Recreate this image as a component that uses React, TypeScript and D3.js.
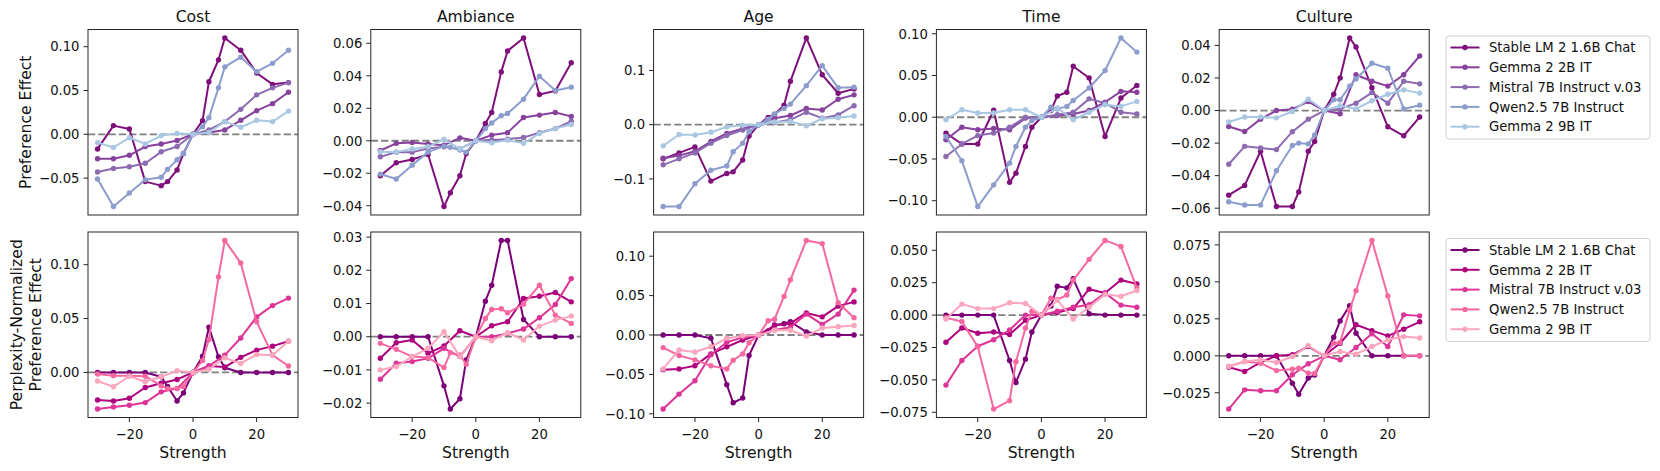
import React from 'react';
import * as d3 from 'd3';

// steering strengths (x axis)
const strengths = [-30, -25, -20, -15, -10, -8, -5, -3, 0, 3, 5, 8, 10, 15, 20, 25, 30];
const categories = ['Cost', 'Ambiance', 'Age', 'Time', 'Culture'];
const models = ['Stable LM 2 1.6B Chat', 'Gemma 2 2B IT', 'Mistral 7B Instruct v.03', 'Qwen2.5 7B Instruct', 'Gemma 2 9B IT'];
const prefColors = ['#7f0f7b', '#88419d', '#8c6bb1', '#8c9ccd', '#a9c7e3'];
const normColors = ['#7a0177', '#ae017e', '#dd3497', '#f768a1', '#fba6bd'];

type Row = (number | null)[];

// Preference Effect, one row per model (null = not evaluated at that strength)
const costPref: Row[] = [
  [-0.0167, 0.0099, 0.0061, -0.054, -0.0586, -0.054, -0.0407, -0.022, 0, 0.0156, 0.06, 0.085, 0.11, 0.096, 0.07, 0.057, 0.059],
  [-0.028, -0.028, -0.024, -0.014, -0.011, null, -0.007, null, 0, null, 0.002, null, 0.005, 0.016, 0.027, 0.035, 0.048],
  [-0.043, -0.039, -0.037, -0.033, -0.02, null, -0.014, null, 0, null, 0.005, null, 0.0145, 0.0285, 0.045, 0.053, 0.059],
  [-0.051, -0.0825, -0.067, -0.052, -0.049, -0.04, -0.029, -0.022, 0, 0.0087, 0.019, 0.053, 0.077, 0.088, 0.0715, 0.081, 0.096],
  [-0.0095, -0.015, -0.004, -0.011, -0.0015, null, 0.001, null, 0, null, 0.002, null, 0.0145, 0.008, 0.016, 0.0145, 0.0265],
];
const ambiancePref: Row[] = [
  [-0.0215, -0.0135, -0.0115, -0.0084, -0.0405, -0.032, -0.0215, -0.0078, 0, 0.0106, 0.0174, 0.0424, 0.0553, 0.0633, 0.0285, 0.0307, 0.048],
  [-0.006, -0.0016, -0.001, -0.002, -0.0027, null, 0.0018, null, 0, null, 0.0035, null, 0.005, 0.0143, 0.0158, 0.0174, 0.015],
  [-0.0098, -0.007, -0.007, -0.0047, -0.0037, null, -0.005, null, 0, null, 0.0005, null, 0.001, 0.002, 0.005, 0.0075, 0.012],
  [-0.0205, -0.0235, -0.015, -0.007, -0.0033, -0.004, -0.0057, -0.007, 0, 0.0075, 0.011, 0.0154, 0.0168, 0.0256, 0.0397, 0.031, 0.033],
  [-0.0068, -0.007, -0.005, -0.0037, 0.001, null, -0.005, null, 0, null, -0.0012, null, 0.0004, -0.0016, 0.0045, 0.0075, 0.01],
];
const agePref: Row[] = [
  [-0.063, -0.052, -0.041, -0.104, -0.09, -0.087, -0.065, -0.021, 0, 0.0135, 0.019, 0.036, 0.08, 0.16, 0.092, 0.058, 0.066],
  [-0.062, -0.057, -0.049, -0.031, -0.016, null, -0.007, null, 0, null, 0.012, null, 0.017, 0.03, 0.027, 0.047, 0.055],
  [-0.074, -0.063, -0.052, -0.034, -0.02, null, -0.01, null, 0, null, 0.004, null, 0.009, 0.023, 0.012, 0.018, 0.035],
  [-0.151, -0.151, -0.109, -0.084, -0.076, -0.05, -0.034, -0.013, 0, 0.01, 0.02, 0.03, 0.038, 0.072, 0.109, 0.068, 0.069],
  [-0.039, -0.018, -0.019, -0.014, -0.004, null, -0.001, null, 0, null, 0.005, null, 0.006, -0.002, 0.011, 0.013, 0.016],
];
const timePref: Row[] = [
  [-0.019, -0.032, -0.032, 0.0084, -0.078, -0.067, -0.035, -0.012, 0, 0.008, 0.0255, 0.03, 0.061, 0.047, -0.023, 0.023, 0.038],
  [-0.027, -0.012, -0.015, -0.0135, -0.015, null, -0.001, null, 0, null, 0.002, null, 0.004, 0.008, 0.018, 0.031, 0.03],
  [-0.047, -0.032, -0.022, -0.019, -0.012, null, 0, null, 0, null, 0.003, null, 0.006, 0.022, 0.017, 0.006, 0.004],
  [-0.023, -0.052, -0.107, -0.081, -0.055, -0.035, -0.012, -0.004, 0, 0.012, 0.01, 0.013, 0.02, 0.035, 0.056, 0.095, 0.078],
  [-0.003, 0.009, 0.005, 0.005, 0.009, null, 0.009, null, 0, null, 0.011, null, -0.003, 0.006, 0.015, 0.013, 0.019],
];
const culturePref: Row[] = [
  [-0.052, -0.046, -0.025, -0.059, -0.059, -0.05, -0.025, -0.019, 0, 0.01, 0.02, 0.0446, 0.039, 0.014, -0.01, -0.0155, -0.004],
  [-0.0098, -0.0129, -0.0053, 0, 0.0008, null, 0.0055, null, 0, null, -0.002, null, 0.022, 0.018, 0.015, 0.022, 0.0335],
  [-0.033, -0.022, -0.023, -0.024, -0.013, null, -0.0053, null, 0, null, 0.001, null, 0.0045, 0.011, 0.0045, 0.018, 0.0164],
  [-0.056, -0.058, -0.058, -0.037, -0.0215, -0.02, -0.0205, -0.015, 0, 0.0066, 0.0066, 0.015, 0.0194, 0.029, 0.026, 0.001, 0.0033],
  [-0.007, -0.004, -0.004, -0.0045, -0.0006, null, 0.007, null, 0, null, 0.003, null, 0.001, 0.006, 0.01, 0.0127, 0.0107],
];

// Perplexity-Normalized Preference Effect
const costNorm: Row[] = [
  [0, 0, 0, 0, -0.004, -0.013, -0.0265, -0.019, 0, 0.015, 0.042, 0.0145, 0.0043, 0, 0, 0, 0],
  [-0.0256, -0.0265, -0.024, -0.014, -0.01, null, -0.0065, null, 0, null, 0.006, null, 0.005, 0.014, 0.0207, 0.0244, 0.029],
  [-0.034, -0.032, -0.0305, -0.028, -0.018, null, -0.015, null, 0, null, 0.006, null, 0.016, 0.032, 0.0515, 0.062, 0.069],
  [-0.0015, -0.003, -0.003, -0.0035, -0.0125, -0.015, -0.015, -0.013, 0, 0.011, 0.0305, 0.0886, 0.1225, 0.1015, 0.047, 0.016, 0.006],
  [-0.008, -0.0133, -0.0035, -0.0087, -0.004, null, 0.0015, null, 0, null, 0.003, null, 0.0136, 0.0083, 0.0167, 0.016, 0.029],
];
const ambianceNorm: Row[] = [
  [0, 0, 0, 0, -0.0148, -0.0218, -0.0187, -0.007, 0, 0.0107, 0.0155, 0.029, 0.029, 0.0052, 0, 0, 0],
  [-0.0065, -0.0018, -0.001, -0.005, -0.0028, null, 0.0018, null, 0, null, 0.0033, null, 0.0045, 0.0115, 0.0122, 0.0133, 0.0105],
  [-0.0128, -0.008, -0.0075, -0.0065, -0.0035, null, -0.006, null, 0, null, 0, null, 0.001, 0.0023, 0.0057, 0.0097, 0.0175],
  [-0.002, -0.0038, -0.006, -0.0063, -0.0093, -0.0048, -0.0055, -0.0083, 0, 0.0055, 0.0082, 0.0084, 0.0072, 0.0098, 0.0155, 0.0065, 0.004],
  [-0.01, -0.009, -0.006, -0.0035, 0.0015, null, -0.006, null, 0, null, -0.0012, null, 0.0012, -0.001, 0.0032, 0.005, 0.0062],
];
const ageNorm: Row[] = [
  [0, 0, 0, -0.004, -0.063, -0.086, -0.08, -0.026, 0, 0.005, 0.0126, 0.0143, 0.0168, 0.004, 0, 0, 0],
  [-0.044, -0.043, -0.039, -0.024, -0.015, null, -0.0063, null, 0, null, 0.012, null, 0.0147, 0.028, 0.023, 0.0366, 0.042],
  [-0.094, -0.075, -0.058, -0.025, -0.0093, null, -0.003, null, 0, null, 0.0063, null, 0.0097, 0.0265, 0.0135, 0.0265, 0.057],
  [-0.016, -0.026, -0.0316, -0.039, -0.043, -0.032, -0.024, -0.0097, 0, 0.018, 0.02, 0.049, 0.07, 0.12, 0.116, 0.041, 0.022],
  [-0.043, -0.019, -0.0215, -0.015, -0.004, null, -0.001, null, 0, null, 0.006, null, 0.006, -0.0013, 0.009, 0.0105, 0.012],
];
const timeNorm: Row[] = [
  [0, 0, 0, 0, -0.035, -0.052, -0.034, -0.013, 0, 0.007, 0.0223, 0.021, 0.028, 0.001, 0, 0, 0],
  [-0.021, -0.01, -0.014, -0.013, -0.015, null, -0.004, null, 0, null, 0.002, null, 0.005, 0.02, 0.017, 0.027, 0.024],
  [-0.054, -0.035, -0.024, -0.019, -0.0115, null, 0, null, 0, null, 0.003, null, 0.006, 0.008, 0.017, 0.0077, 0.006],
  [-0.002, -0.005, -0.0245, -0.0725, -0.066, -0.036, -0.01, 0.003, 0, 0.013, 0.012, 0.0155, 0.027, 0.043, 0.0576, 0.053, 0.021],
  [-0.003, 0.0085, 0.005, 0.005, 0.0095, null, 0.009, null, 0, null, 0.0115, null, -0.003, 0.006, 0.016, 0.0145, 0.019],
];
const cultureNorm: Row[] = [
  [0, 0, 0, 0, -0.0185, -0.026, -0.015, -0.013, 0, 0.0126, 0.0236, 0.0338, 0.0153, 0, 0, 0, 0],
  [-0.0077, -0.0106, -0.0045, 0, 0.0007, null, 0.0063, null, 0, null, 0.0085, null, 0.021, 0.017, 0.0135, 0.018, 0.023],
  [-0.036, -0.023, -0.0236, -0.0236, -0.0128, null, -0.0054, null, 0, null, -0.0027, null, 0.0056, 0.0149, 0.0063, 0.0277, 0.027],
  [-0.0072, -0.0038, -0.005, -0.01, -0.009, -0.0083, -0.0117, -0.012, 0, 0.0086, 0.009, 0.031, 0.044, 0.078, 0.0405, 0, 0],
  [-0.0072, -0.0038, -0.0027, -0.0045, -0.0005, null, 0.0068, null, 0, null, 0.003, null, 0.0011, 0.0063, 0.0108, 0.013, 0.012],
];

// tick labels
const strengthTicks = [-20, 0, 20];
const prefTicks = [
  [-0.05, 0, 0.05, 0.1],
  [-0.04, -0.02, 0, 0.02, 0.04, 0.06],
  [-0.1, 0, 0.1],
  [-0.1, -0.05, 0, 0.05, 0.1],
  [-0.06, -0.04, -0.02, 0, 0.02, 0.04],
];
const prefFormats = ['.2f', '.2f', '.1f', '.2f', '.2f'];
const normTicks = [
  [0, 0.05, 0.1],
  [-0.02, -0.01, 0, 0.01, 0.02, 0.03],
  [-0.1, -0.05, 0, 0.05, 0.1],
  [-0.075, -0.05, -0.025, 0, 0.025, 0.05],
  [-0.025, 0, 0.025, 0.05, 0.075],
];
const normFormats = ['.2f', '.2f', '.2f', '.3f', '.3f'];

const prefRows = [costPref, ambiancePref, agePref, timePref, culturePref];
const normRows = [costNorm, ambianceNorm, ageNorm, timeNorm, cultureNorm];

const W = 1660;
const H = 471;
const FONT = 'DejaVu Sans, sans-serif';
const panelW = 210;
const panelH = 185.5;
const lefts = categories.map((_, i) => 88 + i * 282.8);
const tops = [29.5, 232];

interface PanelProps {
  rows: Row[];
  colors: string[];
  ticks: number[];
  fmt: string;
  left: number;
  top: number;
  showX: boolean;
}

const Panel: React.FC<PanelProps> = ({ rows, colors, ticks, fmt, left, top, showX }) => {
  const vals = rows.flat().filter((v): v is number => v !== null);
  const lo = d3.min(vals) as number;
  const hi = d3.max(vals) as number;
  const pad = (hi - lo) * 0.05;
  const x = d3.scaleLinear().domain([-33, 33]).range([0, panelW]);
  const y = d3.scaleLinear().domain([lo - pad, hi + pad]).range([panelH, 0]);
  const f = d3.format(fmt);
  const line = d3.line<[number, number]>().x(d => x(d[0])).y(d => y(d[1]));

  return (
    <g transform={`translate(${left},${top})`}>
      <line x1={0} x2={panelW} y1={y(0)} y2={y(0)} stroke="#808080" strokeWidth={1.8} strokeDasharray="7.2,3.1" />
      {rows.map((row, i) => {
        const pts = strengths
          .map((s, j) => [s, row[j]] as [number, number | null])
          .filter((p): p is [number, number] => p[1] !== null);
        return (
          <g key={i}>
            <path d={line(pts) || ''} fill="none" stroke={colors[i]} strokeWidth={2} strokeLinejoin="round" />
            {pts.map((p, k) => (
              <circle key={k} cx={x(p[0])} cy={y(p[1])} r={2.7} fill={colors[i]} />
            ))}
          </g>
        );
      })}
      <rect x={0} y={0} width={panelW} height={panelH} fill="none" stroke="#262626" strokeWidth={1} />
      {ticks.map(t => (
        <g key={t} transform={`translate(0,${y(t)})`}>
          <line x1={-4.5} x2={0} stroke="#262626" strokeWidth={1} />
          <text x={-8.5} dy="0.36em" textAnchor="end" fontSize={13.2} fontFamily={FONT} fill="#111">
            {f(t)}
          </text>
        </g>
      ))}
      {showX &&
        strengthTicks.map(t => (
          <g key={t} transform={`translate(${x(t)},${panelH})`}>
            <line y1={0} y2={4.5} stroke="#262626" strokeWidth={1} />
            <text y={21} textAnchor="middle" fontSize={13.2} fontFamily={FONT} fill="#111">
              {d3.format('d')(t)}
            </text>
          </g>
        ))}
      {showX && (
        <text x={panelW / 2} y={panelH + 40.5} textAnchor="middle" fontSize={15.6} fontFamily={FONT} fill="#111">
          Strength
        </text>
      )}
    </g>
  );
};

const Legend: React.FC<{ colors: string[]; top: number }> = ({ colors, top }) => (
  <g transform={`translate(1446,${top})`}>
    <rect x={0} y={0} width={204} height={103} rx={3} fill="#fff" fillOpacity={0.8} stroke="#d0d0d0" strokeWidth={1} />
    {models.map((m, i) => (
      <g key={m} transform={`translate(0,${11.5 + i * 19.8})`}>
        <line x1={4.5} x2={33.5} stroke={colors[i]} strokeWidth={2} />
        <circle cx={19} cy={0} r={2.7} fill={colors[i]} />
        <text x={43} dy="0.36em" fontSize={13.2} fontFamily={FONT} fill="#111">
          {m}
        </text>
      </g>
    ))}
  </g>
);

const App: React.FC = () => {
  return (
    <div style={{ position: 'absolute', left: 0, top: 0 }}>
      <svg width={W} height={H} style={{ display: 'block', background: '#fff' }}>
        {categories.map((c, i) => (
          <text key={c} x={lefts[i] + panelW / 2} y={21.5} textAnchor="middle" fontSize={15.6} fontFamily={FONT} fill="#111">
            {c}
          </text>
        ))}
        {categories.map((c, i) => (
          <Panel key={'p' + c} rows={prefRows[i]} colors={prefColors} ticks={prefTicks[i]} fmt={prefFormats[i]}
            left={lefts[i]} top={tops[0]} showX={false} />
        ))}
        {categories.map((c, i) => (
          <Panel key={'n' + c} rows={normRows[i]} colors={normColors} ticks={normTicks[i]} fmt={normFormats[i]}
            left={lefts[i]} top={tops[1]} showX={true} />
        ))}
        <text transform={`translate(31,${tops[0] + panelH / 2}) rotate(-90)`} textAnchor="middle" fontSize={15.6} fontFamily={FONT} fill="#111">
          Preference Effect
        </text>
        <text transform={`translate(21.5,${tops[1] + panelH / 2}) rotate(-90)`} textAnchor="middle" fontSize={15.6} fontFamily={FONT} fill="#111">
          Perplexity-Normalized
        </text>
        <text transform={`translate(40.5,${tops[1] + panelH / 2}) rotate(-90)`} textAnchor="middle" fontSize={15.6} fontFamily={FONT} fill="#111">
          Preference Effect
        </text>
        <Legend colors={prefColors} top={36} />
        <Legend colors={normColors} top={238.5} />
      </svg>
    </div>
  );
};

export default App;
